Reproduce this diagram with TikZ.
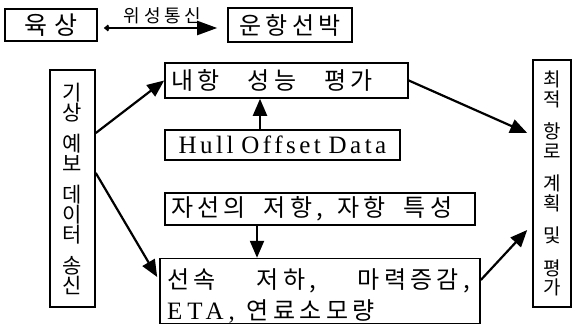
\documentclass[tikz,border=0pt]{standalone}
\usepackage{fontspec}
\setmainfont{Liberation Serif}
\newfontfamily\kr{Noto Sans CJK KR}
\usetikzlibrary{positioning,arrows.meta,calc}

\begin{document}
\begin{tikzpicture}[x=1pt,y=-1pt,
    box/.style={draw, line width=1.6pt, inner sep=0pt,
        font=\kr\fontsize{24}{26}\selectfont\addfontfeature{LetterSpace=18}},
    flow/.style={line width=2.2pt, -{Triangle[length=17pt,width=14pt]}}]
    \useasboundingbox[fill=white] (0,0) rectangle (576,329);

    % Shore and ship
    \node[box, minimum width=92pt, minimum height=32pt,
          font=\kr\fontsize{25}{26}\selectfont\addfontfeature{LetterSpace=30}] (land) at (51,25) {육상\hspace{12pt}};
    \node[box, minimum width=124pt, minimum height=34pt] (ship) at (290,25) {운항선박};

    % Weather data (vertical text)
    \node[box, minimum width=45pt, minimum height=237pt, align=center,
          font=\kr\fontsize{21}{20}\selectfont] (wx) at (72.5,188.5)
        {기\\상\\[11pt]예\\보\\[11pt]데\\이\\터\\[11pt]송\\신};

    % Middle column
    \node[box, minimum height=35pt, text width=230pt, inner xsep=6.5pt, align=left] (seakeep) at (286.5,80.5)
        {내항\hspace{20pt} 성능\hspace{20pt} 평가};
    \node[box, minimum width=235pt, minimum height=30pt,
          font=\rmfamily\fontsize{25}{26}\selectfont\addfontfeature{LetterSpace=14}] (hull) at (282.5,145)
        {Hull\hspace{-2pt} Offset\hspace{-2pt} Data};
    \node[box, minimum width=310pt, minimum height=32pt, text width=298pt, align=left] (resist) at (320,209)
        {자선의\hspace{10pt} 저항,\hspace{6pt} 자항\hspace{10pt} 특성};
    \node[box, minimum height=62pt, text width=306pt, inner xsep=7pt, align=left,
          font=\kr\fontsize{24}{31}\selectfont\addfontfeature{LetterSpace=18}] (speed) at (320,291)
        {\rule{0pt}{30pt}\makebox[303pt]{선속\hfill 저하,\hfill 마력증감,}\\
         {\rmfamily\fontsize{25}{31}\selectfont\addfontfeature{LetterSpace=20}ETA,}\hspace{12pt}연료소모량};

    % Route planning (vertical text)
    \node[box, minimum width=38pt, minimum height=247pt, align=center,
          font=\kr\fontsize{19}{19.5}\selectfont] (route) at (552,183.5)
        {최\\적\\[13pt]항\\로\\[13pt]계\\획\\[13pt]및\\[13pt]평\\가};

    % Arrows
    \draw[line width=2.2pt, {Straight Barb[length=3pt,width=5pt]}-{Triangle[length=20pt,width=14pt]},
          shorten <=6pt, shorten >=10pt]
        ([yshift=-3pt]land.east) -- ([yshift=-3pt]ship.west)
        node[midway, above=0pt, font=\kr\fontsize{18}{18}\selectfont\addfontfeature{LetterSpace=20}] {위성통신};
    \draw[flow] ([yshift=55.5pt]wx.east) -- (seakeep.west);
    \draw[flow] ([yshift=15.5pt]wx.east) -- ([yshift=14pt, xshift=-2pt]speed.west);
    \draw[flow] ([xshift=-22.5pt]hull.north) -- ([xshift=-22.5pt]hull.north |- seakeep.south);
    \draw[flow] ([xshift=-63pt]resist.south) -- ([xshift=-63pt]resist.south |- speed.north);
    \draw[flow] (seakeep.east) -- ([yshift=50.5pt, xshift=-5pt]route.west);
    \draw[flow] ([yshift=11pt]speed.east) -- ([yshift=-46.5pt, xshift=-5pt]route.west);
\end{tikzpicture}
\end{document}
